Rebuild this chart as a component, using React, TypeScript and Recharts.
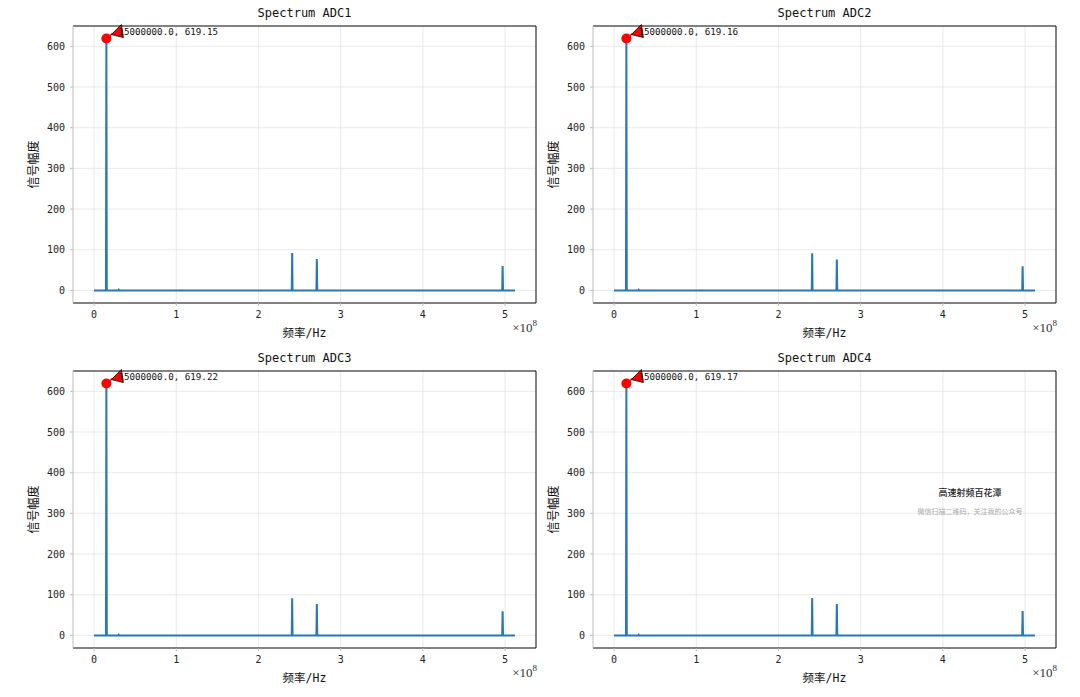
import React from "react";
import {
    LineChart,
    Line,
    XAxis,
    YAxis,
    CartesianGrid,
    ReferenceDot,
    ReferenceLine
} from "recharts";

// FFT bins (Hz) around every spectral line, the rest of the spectrum sits at ~0
const FREQ = [0, 14.5e6, 15e6, 15.5e6, 29.5e6, 30e6, 30.5e6, 240.5e6, 241e6, 241.5e6, 270.5e6, 271e6, 271.5e6, 496.5e6, 497e6, 497.5e6, 512e6];

const ADC1 = [0, 0, 619.15, 0, 0, 1.5, 0, 0, 92, 0, 0, 77, 0, 0, 60, 0, 0];
const ADC2 = [0, 0, 619.16, 0, 0, 1.5, 0, 0, 91, 0, 0, 76, 0, 0, 59, 0, 0];
const ADC3 = [0, 0, 619.22, 0, 0, 1.5, 0, 0, 91, 0, 0, 77, 0, 0, 59, 0, 0];
const ADC4 = [0, 0, 619.17, 0, 0, 1.5, 0, 0, 92, 0, 0, 77, 0, 0, 60, 0, 0];

const TITLES = ["Spectrum ADC1", "Spectrum ADC2", "Spectrum ADC3", "Spectrum ADC4"];
const PEAK_FREQ = 15e6;

const X_TICKS = [0, 1e8, 2e8, 3e8, 4e8, 5e8];
const Y_TICKS = [0, 100, 200, 300, 400, 500, 600];
const X_DOMAIN = [-0.256e8, 5.376e8];
const Y_DOMAIN = [-31, 650];

const CHART_W = 545;
const CHART_H = 345;
const MARGIN = { top: 26, right: 9, left: 33, bottom: 12 };
const FONT = "'DejaVu Sans Mono', 'Noto Sans CJK SC', monospace";

const PeakMark = (props: any) => {
    const { cx, cy, text } = props;
    if (cx == null || cy == null) return null;
    return (
        <g>
            <line x1={cx} y1={cy} x2={cx + 6} y2={cy - 5} stroke="red" strokeWidth={1.5} />
            <polygon
                points={`${cx + 5},${cy - 4} ${cx + 15},${cy - 14} ${cx + 17},${cy - 1}`}
                fill="red"
                stroke="#000"
                strokeWidth={0.8}
            />
            <circle cx={cx} cy={cy} r={5} fill="red" />
            <text x={cx + 12} y={cy - 4} fontSize={9.2} fill="#111" style={{ fontFamily: FONT }}>
                {text}
            </text>
        </g>
    );
};

const XLabel = (props: any) => {
    const { viewBox } = props;
    const { x, y, width } = viewBox;
    return (
        <g>
            <text x={x + width / 2} y={y + 34} textAnchor="middle" fontSize={11.5} fill="#111" style={{ fontFamily: FONT }}>
                频率/Hz
            </text>
            <text x={x + width + 1} y={y + 29} textAnchor="end" fill="#333" style={{ fontFamily: "'Liberation Serif', serif" }}>
                <tspan fontSize={13}>×10</tspan>
                <tspan fontSize={9} dy={-6}>8</tspan>
            </text>
        </g>
    );
};

const YLabel = (props: any) => {
    const { viewBox } = props;
    const { x, y, height } = viewBox;
    const cx = x + 1;
    const cy = y + height / 2;
    return (
        <text
            x={cx}
            y={cy}
            textAnchor="middle"
            dominantBaseline="central"
            transform={`rotate(-90, ${cx}, ${cy})`}
            fontSize={12}
            fill="#111"
            style={{ fontFamily: FONT }}
        >
            信号幅度
        </text>
    );
};

function SpectrumPanel({ title, values, left, top }: { title: string; values: number[]; left: number; top: number }) {
    const data = FREQ.map((f, i) => ({ f, amp: values[i] }));
    const peak = values[FREQ.indexOf(PEAK_FREQ)];
    const plotW = CHART_W - MARGIN.left - 40 - MARGIN.right;
    return (
        <div style={{ position: "absolute", left, top, width: CHART_W, height: CHART_H }}>
            <div
                style={{
                    position: "absolute",
                    left: MARGIN.left + 40,
                    width: plotW,
                    top: 6,
                    textAlign: "center",
                    fontSize: 12,
                    color: "#111",
                    fontFamily: FONT,
                    lineHeight: "14px"
                }}
            >
                {title}
            </div>
            <LineChart width={CHART_W} height={CHART_H} data={data} margin={MARGIN} style={{ fontFamily: FONT }}>
                <CartesianGrid stroke="#e3e3e3" strokeWidth={0.8} />
                <XAxis
                    dataKey="f"
                    type="number"
                    domain={X_DOMAIN}
                    ticks={X_TICKS}
                    tickFormatter={(v: number) => String(v / 1e8)}
                    height={30}
                    tickSize={3}
                    tickMargin={5}
                    tick={{ fontSize: 10, fill: "#222" }}
                    axisLine={{ stroke: "#111", strokeWidth: 1 }}
                    tickLine={{ stroke: "#bbb" }}
                    label={<XLabel />}
                />
                <YAxis
                    type="number"
                    domain={Y_DOMAIN}
                    ticks={Y_TICKS}
                    width={40}
                    tickSize={3}
                    tickMargin={5}
                    tick={{ fontSize: 10, fill: "#222" }}
                    axisLine={{ stroke: "#c8c8c8", strokeWidth: 1 }}
                    tickLine={{ stroke: "#bbb" }}
                    label={<YLabel />}
                />
                <ReferenceLine y={Y_DOMAIN[1]} stroke="#111" strokeWidth={1} />
                <ReferenceLine x={X_DOMAIN[1]} stroke="#111" strokeWidth={1} />
                <Line
                    type="linear"
                    dataKey="amp"
                    stroke="#2878b5"
                    strokeWidth={2}
                    dot={false}
                    isAnimationActive={false}
                />
                <ReferenceDot
                    x={PEAK_FREQ}
                    y={peak}
                    r={5}
                    shape={(p: any) => <PeakMark {...p} text={`${PEAK_FREQ.toFixed(1)}, ${peak.toFixed(2)}`} />}
                />
            </LineChart>
        </div>
    );
}

export default function App() {
    return (
        <div style={{ position: "absolute", left: 0, top: 0, width: 1080, height: 697, background: "#fff" }}>
            <SpectrumPanel title={TITLES[0]} values={ADC1} left={0} top={0} />
            <SpectrumPanel title={TITLES[1]} values={ADC2} left={520} top={0} />
            <SpectrumPanel title={TITLES[2]} values={ADC3} left={0} top={345} />
            <SpectrumPanel title={TITLES[3]} values={ADC4} left={520} top={345} />
            <div
                style={{
                    position: "absolute",
                    left: 900,
                    width: 140,
                    top: 486,
                    textAlign: "center",
                    fontFamily: "'Noto Sans CJK SC', sans-serif",
                    fontSize: 9,
                    color: "#222",
                    fontWeight: 500
                }}
            >
                高速射频百花潭
            </div>
            <div
                style={{
                    position: "absolute",
                    left: 900,
                    width: 140,
                    top: 506,
                    textAlign: "center",
                    fontFamily: "'Noto Sans CJK SC', sans-serif",
                    fontSize: 7,
                    color: "#aaa"
                }}
            >
                微信扫描二维码，关注我的公众号
            </div>
        </div>
    );
}
